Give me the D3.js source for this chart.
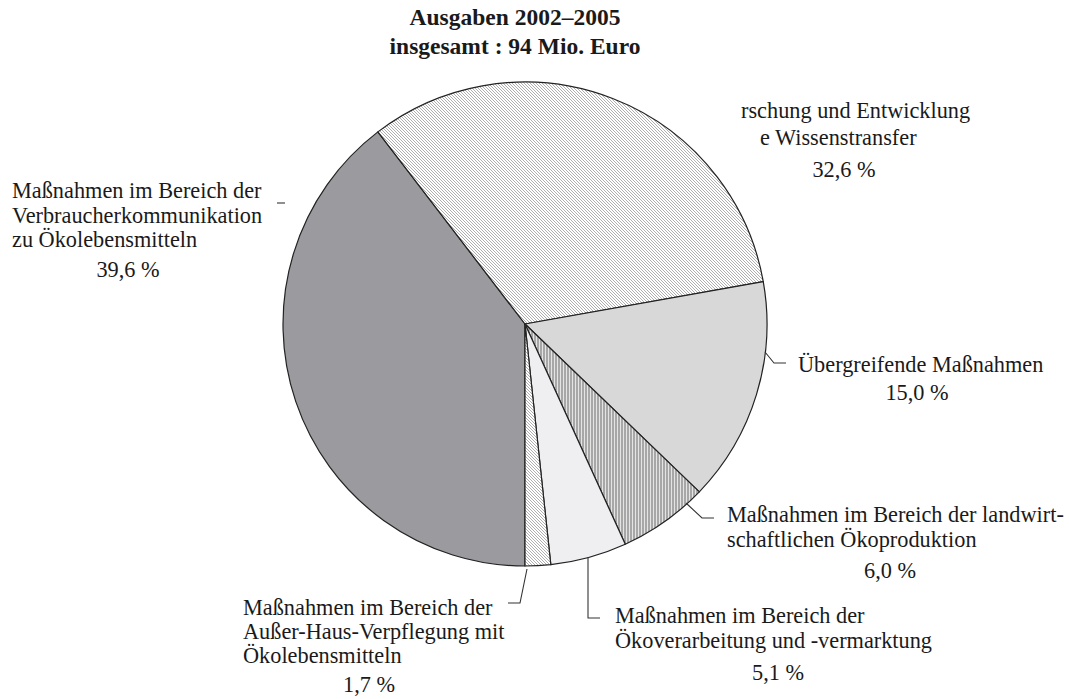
<!DOCTYPE html>
<html>
<head>
<meta charset="utf-8">
<script src="https://cdn.jsdelivr.net/npm/d3@7"></script>
<style>
  body { margin: 0; background: #fff; }
  text { font-family: "Liberation Serif", "Times New Roman", serif; fill: #1a1a1a; }
</style>
</head>
<body>
<div id="chart"></div>
<script>

// slices, clockwise from 6 o'clock
var names = ['Verbraucher', 'Forschung', 'Uebergreifend', 'Landwirt', 'Verarbeitung', 'AusserHaus'];
var shares = [39.6, 32.6, 15.0, 6.0, 5.1, 1.7];
var pctLabels = ['39,6 %', '32,6 %', '15,0 %', '6,0 %', '5,1 %', '1,7 %'];
var labelLines = [
    ['Maßnahmen im Bereich der', 'Verbraucherkommunikation', 'zu Ökolebensmitteln'],
    ['rschung und Entwicklung', 'e Wissenstransfer'],
    ['Übergreifende Maßnahmen'],
    ['Maßnahmen im Bereich der landwirt-', 'schaftlichen Ökoproduktion'],
    ['Maßnahmen im Bereich der', 'Ökoverarbeitung und -vermarktung'],
    ['Maßnahmen im Bereich der', 'Außer-Haus-Verpflegung mit', 'Ökolebensmitteln']
];
var titleLines = ['Ausgaben 2002–2005', 'insgesamt : 94 Mio. Euro'];

var width = 1069, height = 699;
var cx = 525, cy = 324, radius = 242;

var svg = d3.select('#chart').append('svg')
    .attr('width', width)
    .attr('height', height);

var defs = svg.append('defs');

function hatch(id, bg, stroke, d, w, size) {
    var p = defs.append('pattern')
        .attr('id', id)
        .attr('patternUnits', 'userSpaceOnUse')
        .attr('width', size).attr('height', size);
    p.append('rect').attr('width', size).attr('height', size).attr('fill', bg);
    p.append('path').attr('d', d).attr('stroke', stroke).attr('stroke-width', w);
}
hatch('diag', '#ffffff', '#9a9a9a', 'M-1,-1 L4,4 M-1,2 L1,4 M2,-1 L4,1', 0.8, 3);
hatch('vert', '#e4e4e4', '#6a6a6a', 'M1,0 L1,3', 1, 3);

var fills = {
    Verbraucher: '#9b9b9f',
    Forschung: 'url(#diag)',
    Uebergreifend: '#d8d8d8',
    Landwirt: 'url(#vert)',
    Verarbeitung: '#efeff1',
    AusserHaus: 'url(#diag)'
};

var pie = d3.pie()
    .sort(null)
    .value(function(d) { return d; })
    .startAngle(Math.PI)
    .endAngle(3 * Math.PI);

var arc = d3.arc().innerRadius(0).outerRadius(radius);

var g = svg.append('g').attr('transform', 'translate(' + cx + ',' + cy + ')');

g.selectAll('path.slice')
    .data(pie(shares))
    .enter()
    .append('path')
    .attr('class', 'slice')
    .attr('d', arc)
    .attr('fill', function(d, i) { return fills[names[i]]; })
    .attr('stroke', '#222')
    .attr('stroke-width', 1.2)
    .attr('stroke-linejoin', 'round');

// title
svg.selectAll('text.title')
    .data(titleLines)
    .enter()
    .append('text')
    .attr('class', 'title')
    .attr('x', 515)
    .attr('y', function(d, i) { return 25 + i * 28.5; })
    .attr('text-anchor', 'middle')
    .style('font-size', '23.5px')
    .style('font-weight', 'bold')
    .text(function(d) { return d; });

// label placement: text start, first baseline, line step, percent centre + baseline
var labelPos = [
    {x: 12, y: 198, step: 24.5, px: 128, py: 277},
    {x: [741, 760], y: 118, step: 27, px: 844, py: 177},
    {x: 798, y: 372, step: 0, px: 917, py: 400},
    {x: 727, y: 522, step: 25, px: 890, py: 578},
    {x: 615, y: 623, step: 25, px: 778, py: 680},
    {x: 243, y: 615, step: 24, px: 369, py: 692}
];

// leader lines (polyline pieces in page coordinates)
var leaders = [
    [[277, 203], [285, 203]],
    [],
    [[765, 352], [774, 363], [786, 363]],
    [[686, 503], [702, 518], [714, 518]],
    [[588, 557], [588, 618], [600, 618]],
    [[527, 569], [520, 603], [508, 603]]
];

var line = d3.line();
svg.selectAll('path.leader')
    .data(leaders.filter(function(l) { return l.length; }))
    .enter()
    .append('path')
    .attr('class', 'leader')
    .attr('d', line)
    .attr('fill', 'none')
    .attr('stroke', '#333')
    .attr('stroke-width', 1.1);

labelLines.forEach(function(lines, i) {
    var p = labelPos[i];
    lines.forEach(function(t, j) {
        svg.append('text')
            .attr('x', Array.isArray(p.x) ? p.x[j] : p.x)
            .attr('y', p.y + j * p.step)
            .style('font-size', '22.3px')
            .text(t);
    });
    svg.append('text')
        .attr('x', p.px)
        .attr('y', p.py)
        .attr('text-anchor', 'middle')
        .style('font-size', '22.3px')
        .text(pctLabels[i]);
});

</script>
</body>
</html>
